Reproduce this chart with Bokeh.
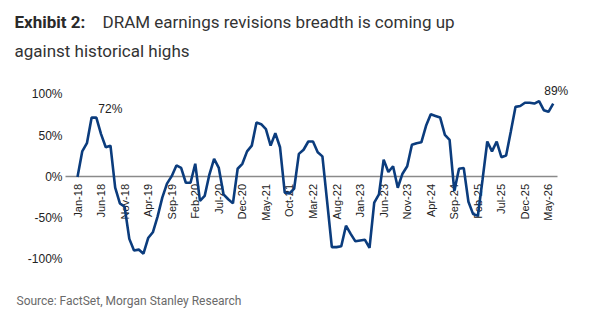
from math import pi
from bokeh.plotting import figure
from bokeh.models import FixedTicker, Range1d, Label
from bokeh.embed import file_html
from bokeh.resources import INLINE

# Monthly DRAM earnings revisions breadth (%), Jan-18 onwards
revisions_breadth = [
    0, 31, 41, 72, 72, 52, 36, 38, -13, -32,
    -36, -75, -89, -88, -93, -74, -67, -48, -25, -8,
    1, 14, 11, -7, -7, 16, -29, -23, 3, 22,
    11, -21, -27, -32, 10, 16, 31, 38, 66, 64,
    58, 38, 53, 36, -19, -20, -14, 28, 33, 43,
    43, 30, 25, -30, -85, -85, -84, -59, -69, -78,
    -77, -76, -86, -31, -21, 21, 6, 13, -13, 4,
    13, 39, 41, 42, 62, 76, 74, 72, 51, 45,
    -17, 10, 11, -30, -45, -47, -3, 43, 31, 43,
    24, 26, 55, 85, 86, 90, 90, 89, 92, 81,
    79, 89,
]
tick_labels = ["Jan-18", "Jun-18", "Nov-18", "Apr-19", "Sep-19", "Feb-20", "Jul-20",
               "Dec-20", "May-21", "Oct-21", "Mar-22", "Aug-22", "Jan-23", "Jun-23",
               "Nov-23", "Apr-24", "Sep-24", "Feb-25", "Jul-25", "Dec-25", "May-26"]
tick_step = 5
y_ticks = [-100, -50, 0, 50, 100]
y_tick_labels = ["-100%", "-50%", "0%", "50%", "100%"]

months = list(range(len(revisions_breadth)))
x_ticks = [i * tick_step for i in range(len(tick_labels))]

X_START, X_END = -2.55, 101.9
AXIS_FONT = "Liberation Sans"

p = figure(width=600, height=317, output_backend="svg", toolbar_location=None,
           x_range=Range1d(-16.35, 111.04), y_range=Range1d(-170.3, 213.9),
           min_border=0, background_fill_color="white", border_fill_color="white")
p.outline_line_color = None
p.xgrid.visible = False
p.ygrid.visible = False

p.line(months, revisions_breadth, line_color="#0b3c7d", line_width=2.6)

xa = p.xaxis[0]
xa.fixed_location = 0
xa.bounds = (X_START, X_END)
xa.ticker = FixedTicker(ticks=x_ticks)
xa.major_label_overrides = {t: l for t, l in zip(x_ticks, tick_labels)}
xa.major_label_orientation = pi / 2
xa.axis_line_color = "#8a8a8a"
xa.axis_line_width = 1.5
xa.major_tick_line_color = None
xa.minor_tick_line_color = None
xa.major_tick_out = 0
xa.major_tick_in = 0
xa.major_label_standoff = 7
xa.major_label_text_font = AXIS_FONT
xa.major_label_text_font_size = "11px"
xa.major_label_text_color = "#222222"
xa.level = "underlay"

ya = p.yaxis[0]
ya.fixed_location = X_START
ya.bounds = (-100, 100)
ya.ticker = FixedTicker(ticks=y_ticks)
ya.major_label_overrides = {t: l for t, l in zip(y_ticks, y_tick_labels)}
ya.axis_line_color = None
ya.major_tick_line_color = None
ya.minor_tick_line_color = None
ya.major_tick_out = 0
ya.major_tick_in = 0
ya.major_label_standoff = 3
ya.major_label_text_font = AXIS_FONT
ya.major_label_text_font_size = "12px"
ya.major_label_text_color = "#222222"

p.add_layout(Label(x=months[4], y=revisions_breadth[4], text="72%", x_offset=2, y_offset=1.5,
                   text_align="left", text_baseline="bottom", text_font=AXIS_FONT,
                   text_font_size="12px", text_color="#222222"))
p.add_layout(Label(x=months[-1], y=revisions_breadth[-1], text="89%", x_offset=3, y_offset=6,
                   text_align="center", text_baseline="bottom", text_font=AXIS_FONT,
                   text_font_size="12px", text_color="#222222"))

# Title and source (screen units; frame covers the whole canvas)
p.add_layout(Label(x=14, y=296, x_units="screen", y_units="screen", text="Exhibit 2:",
                   text_font="Roboto", text_font_style="bold", text_font_size="17px",
                   text_color="#2a2a2a", text_baseline="alphabetic"))
p.add_layout(Label(x=102, y=296, x_units="screen", y_units="screen",
                   text="DRAM earnings revisions breadth is coming up",
                   text_font="Roboto", text_font_size="17px",
                   text_color="#333333", text_baseline="alphabetic"))
p.add_layout(Label(x=14, y=267, x_units="screen", y_units="screen",
                   text="against historical highs",
                   text_font="Roboto", text_font_size="17px",
                   text_color="#333333", text_baseline="alphabetic"))
p.add_layout(Label(x=16, y=17, x_units="screen", y_units="screen",
                   text="Source: FactSet, Morgan Stanley Research",
                   text_font="Roboto", text_font_size="12px",
                   text_color="#6a6a6a", text_baseline="middle"))

open("out.html", "w").write(file_html(p, INLINE))
